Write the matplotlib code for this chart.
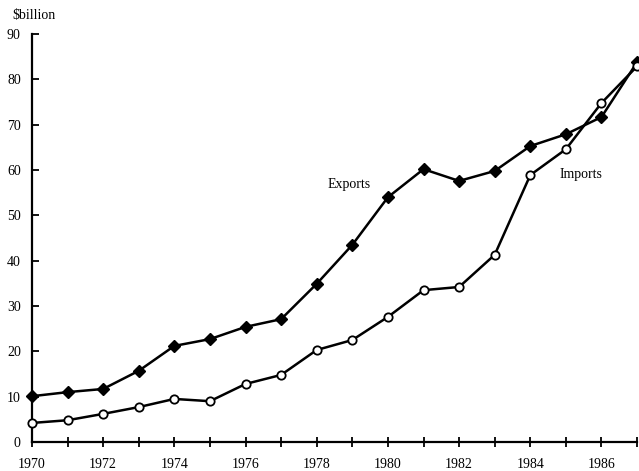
import matplotlib
matplotlib.use("Agg")
import matplotlib.pyplot as plt
import numpy as np

years = list(range(1970, 1988))
exports = [10.1, 11.0, 11.7, 15.7, 21.2, 22.7, 25.4, 27.1, 34.9, 43.5,
           54.0, 60.2, 57.6, 59.8, 65.3, 67.9, 71.7, 83.8]
imports = [4.2, 4.8, 6.2, 7.7, 9.5, 9.0, 12.8, 14.8, 20.3, 22.5,
           27.6, 33.5, 34.2, 41.3, 58.9, 64.6, 74.8, 82.9]
major_years = list(range(1970, 1987, 2))
minor_years = list(range(1971, 1988, 2))
y_ticks = list(range(0, 91, 10))

plt.rcParams['font.family'] = ['Liberation Serif', 'DejaVu Serif']

fig = plt.figure(figsize=(6.39, 4.71), dpi=100)
ax = fig.add_axes([0.050, 0.0616, 0.947, 0.866])

ax.plot(years, exports, color='black', lw=1.8, marker='D', markersize=6,
        markerfacecolor='black', markeredgecolor='black', clip_on=False, zorder=3)
ax.plot(years, imports, color='black', lw=1.8, marker='o', markersize=6,
        markerfacecolor='white', markeredgecolor='black', markeredgewidth=1.3,
        clip_on=False, zorder=4)

ax.set_xlim(1970, 1987)
ax.set_ylim(0, 90)
ax.set_xticks(major_years)
ax.set_xticks(minor_years, minor=True)
ax.set_xticklabels([str(y) for y in major_years], fontsize=10)
ax.set_yticks(y_ticks)
ax.set_yticklabels([str(v) for v in y_ticks], fontsize=10)

for s in ['top', 'right']:
    ax.spines[s].set_visible(False)
for s in ['left', 'bottom']:
    ax.spines[s].set_linewidth(1.6)
    ax.spines[s].set_color('black')

ax.tick_params(axis='x', which='both', direction='inout', length=7, width=1.3, pad=8)
ax.tick_params(axis='y', which='both', direction='in', length=5, width=1.3, pad=8)

ax.text(1978.3, 56.9, 'Exports', fontsize=10, va='center', ha='left')
ax.text(1984.83, 59.1, 'Imports', fontsize=10, va='center', ha='left')
fig.text(12 / 639, 1 - 15 / 471, '$billion', fontsize=10, va='center', ha='left')

fig.savefig('out.png', dpi=100)
